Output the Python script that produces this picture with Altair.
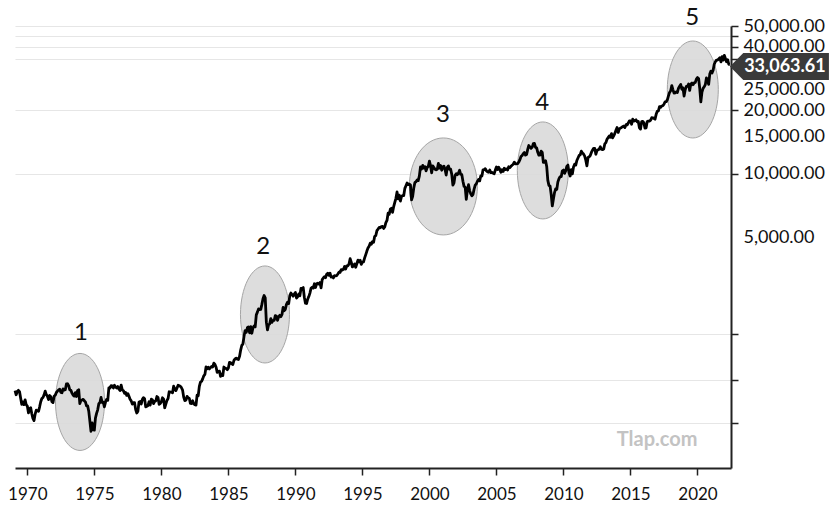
import altair as alt
import pandas as pd

# Dow Jones Industrial Average, monthly closes (Jan 1969 .. May 2022)
v1969_1973 = [946, 905, 936, 950, 937, 873, 816, 837, 813, 856, 812, 800,
              744, 778, 786, 736, 700, 683, 734, 765, 761, 756, 794, 839,
              869, 879, 904, 942, 907, 891, 858, 898, 887, 839, 831, 890,
              902, 928, 941, 954, 961, 929, 925, 964, 953, 956, 1018, 1020,
              999, 955, 951, 921, 901, 892, 926, 888, 947, 956, 822, 851]
v1974_1978 = [856, 861, 847, 837, 802, 802, 757, 679, 608, 666, 619, 616,
              703, 739, 768, 821, 832, 879, 832, 835, 794, 836, 861, 852,
              975, 973, 999, 997, 975, 1003, 985, 974, 990, 965, 947, 1005,
              954, 947, 920, 927, 899, 916, 890, 862, 847, 818, 830, 831,
              770, 742, 757, 837, 841, 819, 862, 877, 866, 793, 799, 805]
v1979_1983 = [839, 809, 862, 855, 822, 842, 846, 888, 878, 816, 822, 839,
              876, 863, 786, 817, 851, 868, 935, 933, 932, 925, 993, 964,
              947, 975, 1004, 998, 992, 977, 952, 882, 850, 853, 889, 875,
              871, 824, 823, 848, 820, 812, 809, 901, 896, 992, 1039, 1047,
              1076, 1113, 1130, 1226, 1200, 1222, 1199, 1216, 1233, 1225, 1276, 1259]
v1984_1988 = [1221, 1155, 1165, 1171, 1105, 1132, 1115, 1224, 1207, 1207, 1189, 1212,
              1287, 1284, 1267, 1258, 1315, 1336, 1348, 1334, 1329, 1374, 1472, 1547,
              1571, 1709, 1819, 1784, 1877, 1893, 1775, 1898, 1768, 1878, 1914, 1896,
              2158, 2224, 2305, 2286, 2292, 2419, 2572, 2663, 2596, 1994, 1834, 1939,
              1958, 2072, 1988, 2032, 2031, 2142, 2129, 2032, 2113, 2149, 2115, 2169]
v1989_1993 = [2342, 2258, 2294, 2419, 2480, 2440, 2661, 2737, 2693, 2645, 2706, 2753,
              2591, 2627, 2707, 2657, 2877, 2881, 2905, 2614, 2453, 2442, 2560, 2634,
              2736, 2882, 2914, 2888, 3028, 2907, 3025, 3044, 3017, 3069, 2895, 3169,
              3224, 3267, 3236, 3359, 3397, 3319, 3394, 3257, 3272, 3226, 3305, 3301,
              3310, 3370, 3436, 3428, 3528, 3516, 3540, 3651, 3555, 3681, 3684, 3754]
v1994_1998 = [3978, 3832, 3636, 3682, 3758, 3625, 3765, 3913, 3843, 3908, 3739, 3834,
              3844, 4011, 4158, 4321, 4465, 4556, 4709, 4650, 4789, 4756, 5075, 5117,
              5395, 5486, 5587, 5569, 5643, 5655, 5529, 5616, 5882, 6029, 6522, 6448,
              6813, 6878, 6584, 7009, 7331, 7673, 8222, 7622, 7945, 7442, 7823, 7908,
              7907, 8546, 8800, 9063, 8900, 8952, 8883, 7539, 7843, 8592, 9117, 9181]
v1999_2003 = [9359, 9307, 9786, 10789, 10560, 10971, 10655, 10829, 10337, 10729, 10878, 11497,
              10941, 10128, 10922, 10734, 10522, 10448, 10522, 11215, 10651, 10971, 10415, 10788,
              10887, 10495, 9879, 10735, 10912, 10502, 10523, 9950, 8848, 9075, 9852, 10022,
              9920, 10106, 10404, 9946, 9925, 9243, 8737, 8664, 7592, 8397, 8896, 8342,
              8054, 7891, 7992, 8480, 8850, 8985, 9234, 9416, 9275, 9801, 9782, 10454]
v2004_2008 = [10488, 10584, 10358, 10226, 10188, 10435, 10140, 10174, 10080, 10027, 10428, 10783,
              10490, 10766, 10504, 10193, 10467, 10275, 10641, 10482, 10569, 10440, 10806, 10718,
              10865, 10993, 11109, 11367, 11168, 11150, 11186, 11381, 11679, 12081, 12222, 12463,
              12622, 12269, 12354, 13063, 13628, 13409, 13212, 13358, 13896, 13930, 13372, 13265,
              12650, 12266, 12263, 12820, 12638, 11350, 11378, 11544, 10851, 9325, 8829, 8776]
v2009_2013 = [8001, 7063, 7609, 8168, 8500, 8447, 9172, 9496, 9712, 9713, 10345, 10428,
              10067, 10325, 10857, 11009, 10137, 9774, 10466, 10015, 10788, 11118, 11006, 11578,
              11892, 12226, 12320, 12811, 12570, 12414, 12143, 11614, 10913, 11955, 12046, 12218,
              12633, 12952, 13212, 13214, 12393, 12880, 13009, 13091, 13437, 13096, 13026, 13104,
              13861, 14054, 14579, 14840, 15116, 14910, 15500, 14810, 15130, 15546, 16086, 16577]
v2014_2018 = [15699, 16322, 16458, 16581, 16717, 16827, 16563, 17098, 17043, 17391, 17828, 17823,
              17165, 18133, 17776, 17841, 18011, 17620, 17690, 16528, 16285, 17664, 17720, 17425,
              16466, 16517, 17685, 17774, 17787, 17930, 18432, 18401, 18308, 18142, 19124, 19763,
              19864, 20812, 20663, 20941, 21009, 21350, 21891, 21948, 22405, 23377, 24272, 24719,
              26149, 25029, 24103, 24163, 24416, 24271, 25415, 25965, 26458, 25116, 25538, 23327]
v2019_2022 = [24999, 25916, 25929, 26593, 24815, 26600, 26864, 26403, 26917, 27046, 28051, 28538,
              28256, 25409, 21917, 24346, 25383, 25813, 26428, 28430, 27782, 26502, 29638, 30606,
              29983, 30932, 32982, 33875, 34529, 34503, 34935, 35361, 33844, 35820, 34484, 36338,
              35132, 33893, 34678, 32977, 33063.61]

values = (v1969_1973 + v1974_1978 + v1979_1983 + v1984_1988 + v1989_1993 + v1994_1998
          + v1999_2003 + v2004_2008 + v2009_2013 + v2014_2018 + v2019_2022)
months = [1969 + (i + 1) / 12 for i in range(len(values))]
series = pd.DataFrame({"t": months, "v": values})

# annotation circles (centres) and their numbers
circle_year = [1973.93, 1987.73, 2001.04, 2008.46, 2019.65]
circle_value = [837, 2168, 8728, 10388, 25060]
circle_label = ["1", "2", "3", "4", "5"]
label_year = [1974.0, 1987.59, 2001.0, 2008.41, 2019.6]
label_value = [1774, 4520, 19000, 21630, 54570]

last_year = [2022.42]
last_value = [33063.61]

y_labeled = [5000, 10000, 15000, 20000, 25000, 40000, 50000]
y_unlabeled = [665, 1060, 1750, 35000, 45000]
x_ticks = [1970, 1975, 1980, 1985, 1990, 1995, 2000, 2005, 2010, 2015, 2020]

FONT = "Lato"
xs = alt.Scale(domain=[1969.08, 2022.5], nice=False, zero=False)
ys = alt.Scale(type="log", domain=[408, 50000], nice=False, zero=False)

hidden = "datum.value == 5000 || datum.value == 15000 || datum.value == 25000"
y_axis = alt.Axis(
    orient="right", values=sorted(y_labeled + y_unlabeled), title=None,
    labelExpr="indexof([5000,10000,15000,20000,25000,40000,50000], datum.value) >= 0 ? format(datum.value, ',.2f') : ''",
    labelFont=FONT, labelFontSize=18, labelColor="#111", labelPadding=5,
    tickSize=7, tickWidth=1.5, tickColor="#222",
    tickOpacity={"condition": {"test": hidden, "value": 0}, "value": 1},
    grid=True, gridColor="#e6e6e6", gridWidth=1.2,
    gridOpacity={"condition": {"test": hidden, "value": 0}, "value": 1},
    domainColor="#222", domainWidth=2,
)
x_axis = alt.Axis(
    values=x_ticks, format="d", title=None, grid=False,
    labelFont=FONT, labelFontSize=17, labelColor="#111", labelPadding=11,
    tickSize=7, tickWidth=1.5, tickColor="#222", domainColor="#222", domainWidth=2,
)

circ_df = pd.DataFrame({"t": circle_year, "v": circle_value})
circle_w = [49, 49, 68, 51, 51]
circle_h = 97

layers = []
for i in range(len(circle_year)):
    r = circle_w[i] / circle_h
    path = f"M {-r:.4f} 0 A {r:.4f} 1 0 1 0 {r:.4f} 0 A {r:.4f} 1 0 1 0 {-r:.4f} 0 Z"
    layers.append(
        alt.Chart(circ_df.iloc[[i]]).mark_point(
            shape=path, size=circle_h ** 2, filled=True, fill="#d9d9d9",
            fillOpacity=0.9, stroke="#a5a5a5", strokeWidth=1, opacity=1,
        ).encode(x=alt.X("t:Q", scale=xs, axis=x_axis), y=alt.Y("v:Q", scale=ys, axis=y_axis))
    )

line = alt.Chart(series).mark_line(color="black", strokeWidth=2.8, strokeJoin="round").encode(
    x=alt.X("t:Q", scale=xs, axis=x_axis), y=alt.Y("v:Q", scale=ys, axis=y_axis)
)

nums = alt.Chart(pd.DataFrame({"t": label_year, "v": label_value, "s": circle_label})).mark_text(
    font=FONT, fontSize=24, color="#111", align="center", baseline="middle"
).encode(x=alt.X("t:Q", scale=xs), y=alt.Y("v:Q", scale=ys), text="s:N")

watermark = alt.Chart(pd.DataFrame({"t": [2016.99], "v": [554], "s": ["Tlap.com"]})).mark_text(
    font=FONT, fontSize=20, fontWeight="bold", color="#c3c3c3", align="center", baseline="middle"
).encode(x=alt.X("t:Q", scale=xs), y=alt.Y("v:Q", scale=ys), text="s:N")

last_df = pd.DataFrame({"t": last_year, "v": last_value})
box_path = "M 0 0.05 L 0.27 -0.225 L 2 -0.225 L 2 0.325 L 0.27 0.325 Z"
box = alt.Chart(last_df).mark_point(
    shape=box_path, size=99 ** 2, filled=True, fill="#3a3a3a", opacity=1, strokeWidth=0
).encode(x=alt.X("t:Q", scale=xs), y=alt.Y("v:Q", scale=ys))
box_text = alt.Chart(last_df).mark_text(
    font=FONT, fontSize=18, fontWeight="bold", color="white", align="center",
    baseline="middle", dx=55, dy=3
).encode(x=alt.X("t:Q", scale=xs), y=alt.Y("v:Q", scale=ys), text=alt.Text("v:Q", format=",.2f"))

chart = alt.layer(*layers, line, nums, watermark, box, box_text).properties(
    width=716, height=442,
    autosize=alt.AutoSizeParams(type="none"),
    padding={"left": 15, "top": 26, "right": 106, "bottom": 44},
    background="white",
).configure_view(stroke=None)

chart.save("out.html", embed_options={"renderer": "svg", "actions": False})
